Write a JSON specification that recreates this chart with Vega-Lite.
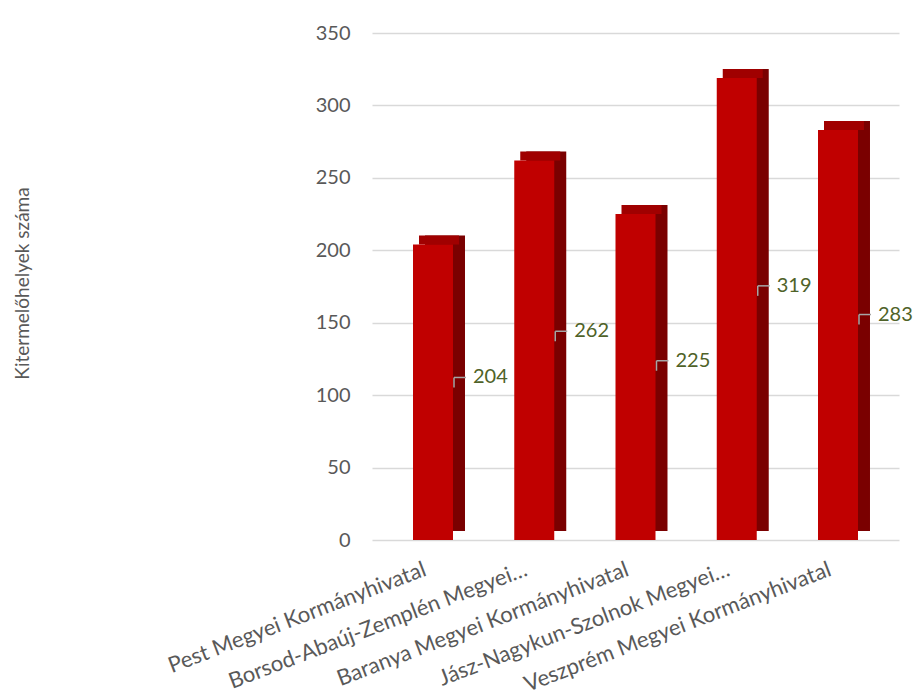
{
  "$schema": "https://vega.github.io/schema/vega-lite/v6.json",
  "autosize": "none",
  "width": 527,
  "height": 507,
  "padding": {"left": 372, "top": 33, "right": 24, "bottom": 150},
  "config": {"view": {"stroke": null}, "font": "Lato"},
  "data": {"values": [
    {"hivatal": "Pest Megyei Kormányhivatal", "n": 204},
    {"hivatal": "Borsod-Abaúj-Zemplén Megyei…", "n": 262},
    {"hivatal": "Baranya Megyei Kormányhivatal", "n": 225},
    {"hivatal": "Jász-Nagykun-Szolnok Megyei…", "n": 319},
    {"hivatal": "Veszprém Megyei Kormányhivatal", "n": 283}
  ]},
  "transform": [{"calculate": "datum.n * 0.55", "as": "labelPos"}],
  "encoding": {
    "x": {
      "field": "hivatal", "type": "nominal", "sort": null,
      "scale": {"paddingInner": 0.605, "paddingOuter": 0.405},
      "axis": {"title": null, "labelAngle": -21, "labelAlign": "right", "labelBaseline": "middle", "labelPadding": 28, "labelOffset": -8, "labelFontSize": 22, "labelColor": "#595959", "ticks": false, "domain": false, "labelLimit": 400}
    },
    "y": {"field": "n", "type": "quantitative", "scale": {"domain": [0, 350]},
      "axis": {"title": "Kitermelőhelyek száma", "titleFontSize": 19, "titleFontWeight": "normal", "titleColor": "#595959", "titleX": -350, "titleY": 250, "titleAngle": -90, "titleAlign": "center", "titleBaseline": "middle", "labelFontSize": 20, "labelColor": "#595959", "labelPadding": 22, "ticks": false, "domain": false, "values": [0, 50, 100, 150, 200, 250, 300, 350], "labelOverlap": false, "gridColor": "#d9d9d9", "gridWidth": 1.3}}
  },
  "layer": [
    {
      "mark": {"type": "bar", "color": "#7a0000", "xOffset": 12, "yOffset": -9, "y2Offset": -9}
    },
    {
      "mark": {"type": "bar", "color": "#a00000", "xOffset": 6, "yOffset": -9},
      "encoding": {
        "y2": {"field": "n"}
      }
    },
    {
      "mark": {"type": "bar", "color": "#c00000"}
    },
    {
      "mark": {"type": "rule", "color": "#a6a6a6", "strokeWidth": 1.5, "xOffset": 21, "y2Offset": 10},
      "encoding": {
        "y": {"field": "labelPos", "type": "quantitative"},
        "y2": {"field": "labelPos"}
      }
    },
    {
      "mark": {"type": "rule", "color": "#a6a6a6", "strokeWidth": 1.5, "xOffset": 21, "x2Offset": 33},
      "encoding": {
        "x2": {"field": "hivatal"},
        "y": {"field": "labelPos", "type": "quantitative"}
      }
    },
    {
      "mark": {"type": "text", "align": "left", "baseline": "middle", "dx": 40, "fontSize": 20, "color": "#4f6228"},
      "encoding": {
        "y": {"field": "labelPos", "type": "quantitative"},
        "text": {"field": "n", "type": "quantitative"}
      }
    }
  ]
}
